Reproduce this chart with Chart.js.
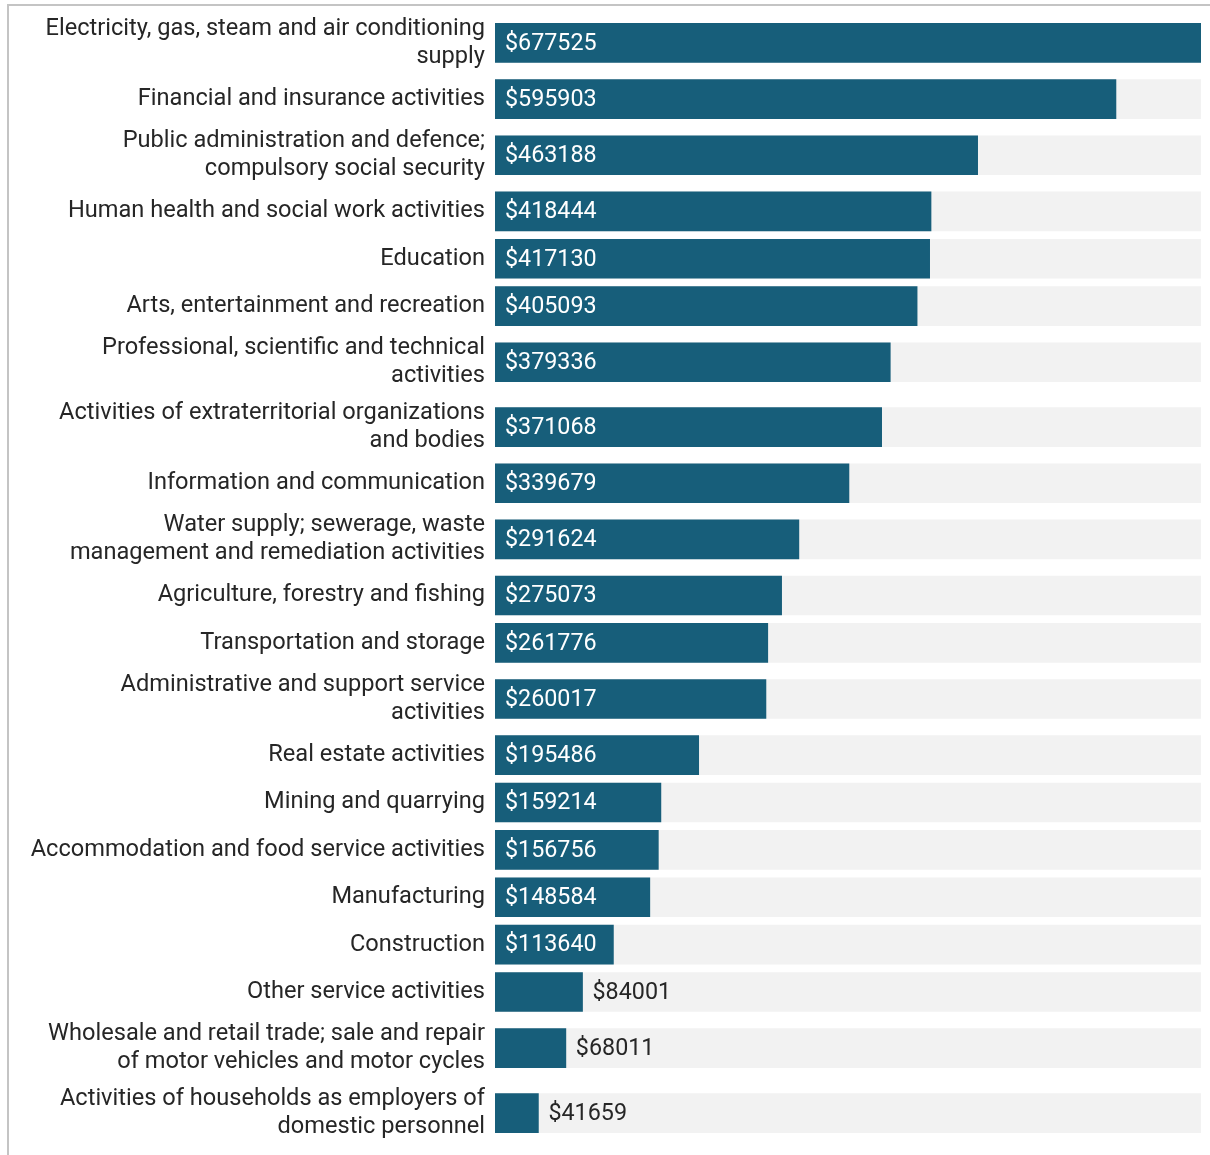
<!DOCTYPE html>
<html>
<head>
<meta charset="utf-8">
<script src="https://cdn.jsdelivr.net/npm/chart.js@4.4.1/dist/chart.umd.min.js"></script>
<style>
  html, body { margin: 0; padding: 0; background: #fff; }
  #frame {
    position: absolute; left: 7px; top: 4px; width: 1203px; height: 1151px;
    border-top: 2px solid #c4c4c4; border-left: 2px solid #c4c4c4;
  }
  #wrap { position: absolute; left: 9px; top: 6px; width: 1201px; height: 1149px; }
</style>
</head>
<body>
<div id="frame"></div>
<div id="wrap"><canvas id="c"></canvas></div>
<script>
const categories = [
  ["Electricity, gas, steam and air conditioning", "supply"],
  "Financial and insurance activities",
  ["Public administration and defence;", "compulsory social security"],
  "Human health and social work activities",
  "Education",
  "Arts, entertainment and recreation",
  ["Professional, scientific and technical", "activities"],
  ["Activities of extraterritorial organizations", "and bodies"],
  "Information and communication",
  ["Water supply; sewerage, waste", "management and remediation activities"],
  "Agriculture, forestry and fishing",
  "Transportation and storage",
  ["Administrative and support service", "activities"],
  "Real estate activities",
  "Mining and quarrying",
  "Accommodation and food service activities",
  "Manufacturing",
  "Construction",
  "Other service activities",
  ["Wholesale and retail trade; sale and repair", "of motor vehicles and motor cycles"],
  ["Activities of households as employers of", "domestic personnel"]
];
const values = [677525, 595903, 463188, 418444, 417130, 405093, 379336, 371068, 339679, 291624,
  275073, 261776, 260017, 195486, 159214, 156756, 148584, 113640, 84001, 68011, 41659];
const valuePrefix = "$";

const maxValue = Math.max(...values);

// Row layout: each row is as tall as its label (a two-line label makes a taller row).
const ROW_ONE = 1;
const ROW_TWO = 1.37;
const rowSize = categories.map(c => Array.isArray(c) ? ROW_TWO : ROW_ONE);
const rowPos = [];
rowSize.forEach((h, i) => {
  rowPos.push(i === 0 ? h / 2 : rowPos[i - 1] + (rowSize[i - 1] + h) / 2);
});
const rowTotal = rowSize.reduce((a, b) => a + b, 0);

const BAR = '#175e7a';
const TRACK = '#f2f2f2';
const TEXT = '#262626';
const FONT = 'Roboto, "Noto Sans", sans-serif';
const FS = 23.6;
const VFS = 23.3;

const valueLabels = {
  id: 'valueLabels',
  afterDatasetsDraw(chart) {
    const ctx = chart.ctx;
    const meta = chart.getDatasetMeta(0);
    ctx.save();
    ctx.font = VFS + 'px ' + FONT;
    ctx.textBaseline = 'middle';
    ctx.textAlign = 'left';
    meta.data.forEach((el, i) => {
      const txt = valuePrefix + values[i];
      const w = ctx.measureText(txt).width;
      const barW = el.x - el.base;
      if (w + 20 <= barW) {
        ctx.fillStyle = '#ffffff';
        ctx.fillText(txt, el.base + 10, el.y + 1);
      } else {
        ctx.fillStyle = TEXT;
        ctx.fillText(txt, el.x + 10, el.y + 1);
      }
    });
    ctx.restore();
  }
};

new Chart(document.getElementById('c'), {
  type: 'bar',
  data: {
    datasets: [
      { data: values.map((v, i) => ({ x: v, y: rowPos[i] })), backgroundColor: BAR, barThickness: 39, grouped: false },
      { data: values.map((v, i) => ({ x: maxValue, y: rowPos[i] })), backgroundColor: TRACK, barThickness: 39, grouped: false }
    ]
  },
  options: {
    indexAxis: 'y',
    responsive: true,
    maintainAspectRatio: false,
    animation: false,
    layout: { padding: { top: 4.5, bottom: 9.5, left: 0, right: 9 } },
    plugins: { legend: { display: false }, tooltip: { enabled: false } },
    scales: {
      x: { type: 'linear', min: 0, max: maxValue, display: false, grid: { display: false } },
      y: {
        type: 'linear',
        reverse: true,
        offset: false,
        grace: 0,
        bounds: 'data',
        min: 0,
        max: rowTotal,
        grid: { display: false, drawTicks: false, offset: false },
        border: { display: false },
        afterBuildTicks(scale) {
          scale.ticks = rowPos.map(p => ({ value: p }));
        },
        ticks: {
          color: TEXT,
          font: { family: FONT, size: FS, lineHeight: 1.17 },
          padding: 10,
          autoSkip: false,
          callback: (val, idx) => categories[idx]
        },
        afterFit(scale) {
          scale.width = 486;
          scale.paddingTop = 0;
          scale.paddingBottom = 0;
        }
      }
    }
  },
  plugins: [valueLabels]
});
</script>
</body>
</html>
